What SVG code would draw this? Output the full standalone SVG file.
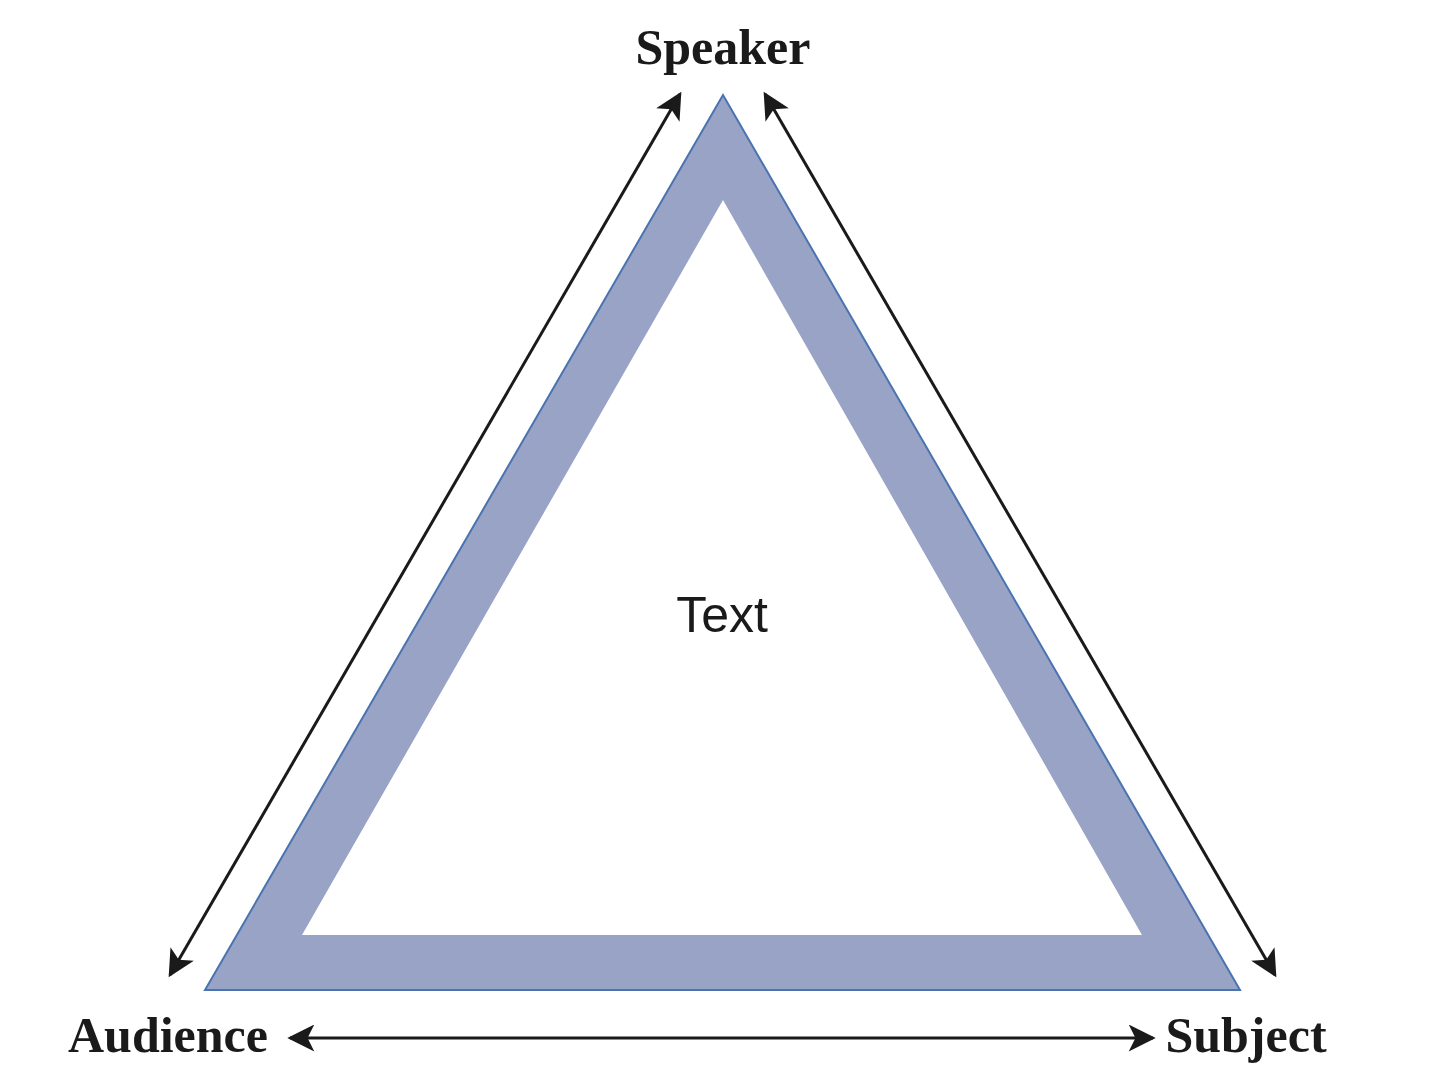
<svg xmlns="http://www.w3.org/2000/svg" width="1440" height="1091" viewBox="0 0 1440 1091">
<style>
.lbl{font-family:"Liberation Serif",serif;font-weight:bold;font-size:50px;fill:#1a1a1a;text-anchor:middle}
.con{stroke:#1a1a1a;stroke-width:3;fill:none;marker-start:url(#ah);marker-end:url(#ah)}
</style>
<defs>
<marker id="ah" viewBox="0 0 10 10" refX="9" refY="5" markerWidth="10" markerHeight="9" orient="auto-start-reverse" markerUnits="strokeWidth">
<path d="M0,0 L10,5 L0,10 L2.5,5 Z" fill="#1a1a1a"/>
</marker>
</defs>
<rect width="1440" height="1091" fill="#fff"/>
<g id="triangle">
<path d="M723,95 L1240,990 L205,990 Z M723,200 L302,935 L1142,935 Z" fill="#98a3c6" fill-rule="evenodd"/>
<path d="M723,95 L1240,990 L205,990 Z" fill="none" stroke="#4a73b0" stroke-width="2"/>
<text x="722" y="632" font-family="Liberation Sans,sans-serif" font-size="50" text-anchor="middle" fill="#1a1a1a">Text</text>
</g>
<g id="speaker"><text class="lbl" x="723" y="64">Speaker</text></g>
<g id="audience"><text class="lbl" x="168" y="1052">Audience</text></g>
<g id="subject"><text class="lbl" x="1246" y="1052">Subject</text></g>
<g id="connectors">
<line class="con" x1="680" y1="94" x2="170" y2="975"/>
<line class="con" x1="765" y1="94" x2="1275" y2="975"/>
<line class="con" x1="290" y1="1038" x2="1153" y2="1038"/>
</g>
</svg>
